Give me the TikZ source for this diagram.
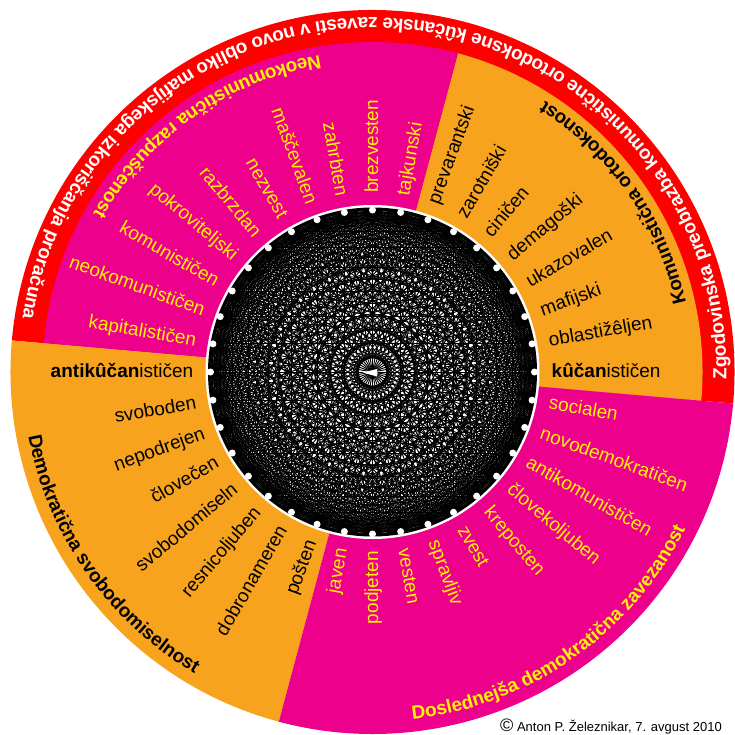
\documentclass[tikz,border=0pt]{standalone}
\usepackage{fontspec}
\setmainfont{Liberation Sans}
\usetikzlibrary{decorations.text}
\definecolor{zpink}{RGB}{236,0,140}
\definecolor{zorange}{RGB}{247,163,30}
\definecolor{zyellow}{RGB}{255,242,0}
\definecolor{zred}{RGB}{255,0,0}
\newcommand\zwordfont{\fontsize{19}{19}\selectfont}
\newcommand\ztitlefont{\bfseries\fontsize{19}{19}\selectfont}
\begin{document}
\begin{tikzpicture}[x=1pt,y=1pt,
  wordout/.style={anchor=mid west, inner sep=0pt, font=\zwordfont},
  wordin/.style={anchor=mid east, inner sep=0pt, font=\zwordfont},
  meshline/.style={black, line width=0.95pt},
  dotnode/.style={circle, fill=white, draw=none, inner sep=0pt, minimum size=7pt},
  arctext/.style={decorate, decoration={text along path, text align=center, text color=#1}}
]
\useasboundingbox (-372.5,-362) rectangle (362.5,372);
% sectors
\fill[zred] (0,0) -- (-5:362) arc[start angle=-5, end angle=175, radius=362pt] -- cycle;
\fill[zorange] (0,0) -- (-5:330) arc[start angle=-5, end angle=75, radius=330pt] -- cycle;
\fill[zpink] (0,0) -- (75:330) arc[start angle=75, end angle=175, radius=330pt] -- cycle;
\fill[zorange] (0,0) -- (175:362) arc[start angle=175, end angle=255, radius=362pt] -- cycle;
\fill[zpink] (0,0) -- (255:362) arc[start angle=255, end angle=355, radius=362pt] -- cycle;
% inner disc
\fill[white] (0,0) circle[radius=167pt];
\foreach \i [evaluate=\i as \a using \i*10] in {0,...,35}
  \coordinate (p\i) at (\a:162);
\foreach \i in {0,...,34}{
  \pgfmathtruncatemacro{\ii}{\i+1}
  \foreach \j in {\ii,...,35}{
    \draw[meshline] (p\i) -- (p\j);
  }
}
\draw[black, line width=3pt] (0,0) circle[radius=163pt];
\fill[white] (-10,-0.5) -- (4.5,3) -- (5,-1) -- (4.5,-4.5) -- cycle;
\foreach \i in {0,...,35}
  \node[dotnode] (d\i) at (p\i) {};
% words
\foreach \a/\t in {0/{\textbf{kûčan}ističen},10/oblastižêljen,20/mafijski,30/ukazovalen,40/demagoški,50/ciničen,60/zarotniški,70/prevarantski}
  \node[wordout, text=black, rotate=\a, yshift=-3pt] (w\a) at (\a:179) {\t};
\foreach \a/\t in {80/tajkunski,90/brezvesten}
  \node[wordout, text=zyellow, rotate=\a, yshift=-3pt] (w\a) at (\a:179) {\t};
\foreach \a/\t in {100/zahrbten,110/maščevalen,120/nezvest,130/razbrzdan,140/pokroviteljski,150/komunističen,160/neokomunističen,170/kapitalističen}
  \node[wordin, text=zyellow, rotate=\a-180, yshift=-3pt] (w\a) at (\a:179) {\t};
\foreach \a/\t in {180/{\textbf{antikûčan}ističen},190/svoboden,200/nepodrejen,210/človečen,220/svobodomiseln,230/resnicoljuben,240/dobronameren,250/pošten}
  \node[wordin, text=black, rotate=\a-180, yshift=-3pt] (w\a) at (\a:179) {\t};
\foreach \a/\t in {260/javen,270/podjeten}
  \node[wordin, text=zyellow, rotate=\a-180, yshift=-3pt] (w\a) at (\a:179) {\t};
\foreach \a/\t in {280/vesten,290/spravljiv,300/zvest,310/kreposten,320/človekoljuben,330/antikomunističen,340/novodemokratičen,350/socialen}
  \node[wordout, text=zyellow, rotate=\a, yshift=-3pt] (w\a) at (\a:179) {\t};
% titles along arcs
\path[arctext=white, decoration={text={|\ztitlefont|Zgodovinska preobrazba komunistične ortodoksne kûčanske zavesti v novo obliko mafijskega izkoriščanja proračuna}}]
  (-5:354) arc[start angle=-5, end angle=175, radius=354pt];
\path[arctext=black, decoration={text={|\ztitlefont|Komunistična ortodoksnost}}]
  (-5:321) arc[start angle=-5, end angle=75, radius=321pt];
\path[arctext=zyellow, decoration={text={|\ztitlefont|Neokomunistična razpuščenost}}]
  (75:321) arc[start angle=75, end angle=175, radius=321pt];
\path[arctext=black, decoration={text={|\ztitlefont|Demokratična svobodomiselnost}}]
  (175:350) arc[start angle=175, end angle=255, radius=350pt];
\path[arctext=zyellow, decoration={text={|\ztitlefont|Doslednejša demokratična zavezanost}}]
  (255:350) arc[start angle=255, end angle=355, radius=350pt];
% copyright
\node[anchor=base east, inner sep=0pt, font=\fontsize{13}{13}\selectfont] (copy) at (349.5,-359)
  {{\fontsize{18}{18}\selectfont ©} Anton P. Železnikar, 7. avgust 2010};
\end{tikzpicture}
\end{document}
